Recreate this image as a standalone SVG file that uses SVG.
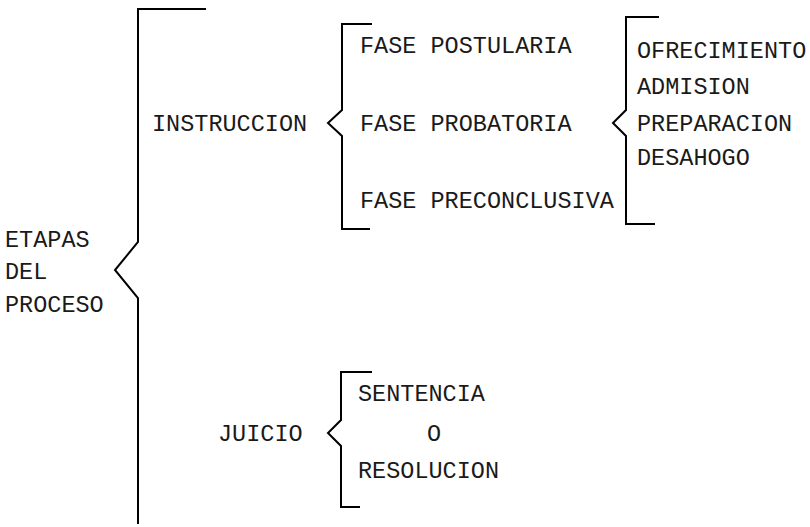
<svg xmlns="http://www.w3.org/2000/svg" width="810" height="527" viewBox="0 0 810 527">
<style>
  .t { font-family: "Liberation Mono", "DejaVu Sans Mono", monospace; font-size: 23.5px; fill: #1a1a1a; }
  .b { fill: none; stroke: #000; stroke-width: 2; stroke-linejoin: miter; }
</style>
<rect width="810" height="527" fill="#fff"/>
<g id="connectors">
  <path class="b" d="M206,9 H138 V242 L115,270 L138,298 V524"/>
  <path class="b" d="M372,24 H342 V110 L328,123 L342,136 V229 H370"/>
  <path class="b" d="M659,17 H626 V110 L613,123 L626,136 V224 H655"/>
  <path class="b" d="M372,372 H341 V420 L328,433 L341,446 V507 H360"/>
</g>
<g id="etapas"><text class="t" x="5" y="247">ETAPAS</text><text class="t" x="5" y="279">DEL</text><text class="t" x="5" y="312">PROCESO</text></g>
<g id="instruccion"><text class="t" x="152" y="131">INSTRUCCION</text></g>
<g id="fase-postularia"><text class="t" x="360" y="53">FASE POSTULARIA</text></g>
<g id="fase-probatoria"><text class="t" x="360" y="131">FASE PROBATORIA</text></g>
<g id="fase-preconclusiva"><text class="t" x="360" y="208">FASE PRECONCLUSIVA</text></g>
<g id="ofrecimiento"><text class="t" x="637" y="58">OFRECIMIENTO</text></g>
<g id="admision"><text class="t" x="637" y="94">ADMISION</text></g>
<g id="preparacion"><text class="t" x="637" y="131">PREPARACION</text></g>
<g id="desahogo"><text class="t" x="637" y="165">DESAHOGO</text></g>
<g id="juicio"><text class="t" x="218" y="441">JUICIO</text></g>
<g id="sentencia"><text class="t" x="358" y="401">SENTENCIA</text><text class="t" x="427" y="441">O</text><text class="t" x="358" y="478">RESOLUCION</text></g>
</svg>
